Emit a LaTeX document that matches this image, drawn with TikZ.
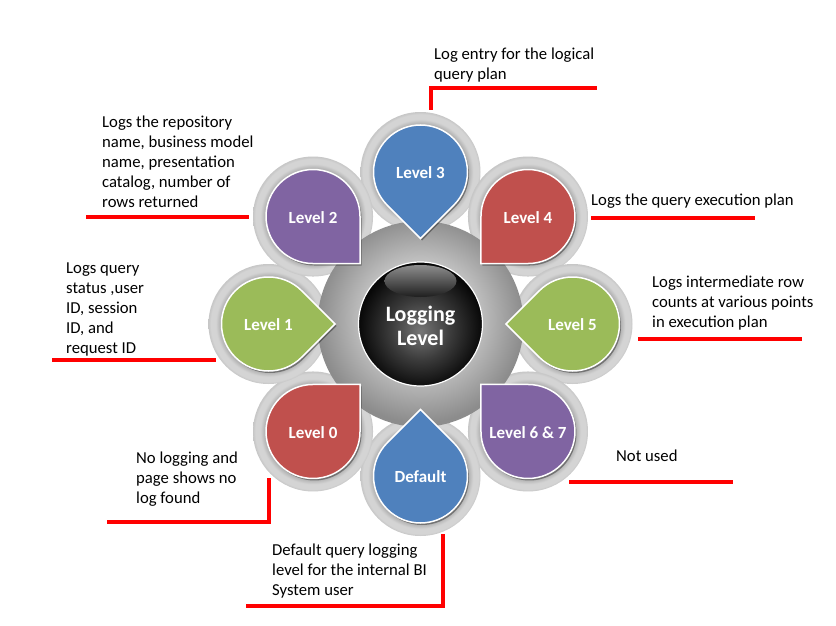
\documentclass[tikz,border=0pt]{standalone}
\usepackage{fontspec}
\setmainfont{Carlito}
\usetikzlibrary{shadows,calc}
\definecolor{cblue}{HTML}{4F81BD}
\definecolor{cpurple}{HTML}{8064A2}
\definecolor{cred}{HTML}{C0504D}
\definecolor{cgreen}{HTML}{9BBB59}
\definecolor{ringdark}{HTML}{A8A8A8}
\definecolor{ringlight}{HTML}{D4D4D4}
\definecolor{ringedge}{HTML}{C6C6C6}
\definecolor{gsin}{HTML}{C0C0C0}
\definecolor{gsout}{HTML}{8C8C8C}
\definecolor{bbin}{HTML}{767676}
\definecolor{bbmid}{HTML}{3C3C3C}
\definecolor{bbout}{HTML}{080808}
\pgfdeclareradialshading{ringshade}{\pgfpoint{0bp}{0bp}}{color(0bp)=(ringdark); color(19.5bp)=(ringdark); color(22bp)=(ringlight); color(24bp)=(ringlight); color(25bp)=(ringedge); color(50bp)=(ringedge)}
\pgfdeclareradialshading{graysphere}{\pgfpoint{0bp}{2bp}}{color(0bp)=(gsin); color(14bp)=(gsin); color(25bp)=(gsout); color(50bp)=(gsout)}
\pgfdeclareradialshading{blackball}{\pgfpoint{0bp}{-3bp}}{color(0bp)=(bbin); color(12bp)=(bbmid); color(25bp)=(bbout); color(50bp)=(bbout)}
\tikzset{
  petal/.style={draw=white, line width=1.5pt,
    drop shadow={shadow xshift=1.5pt, shadow yshift=-2pt, opacity=0.35, fill=black}},
  petallabel/.style={text=white, font=\fontsize{17}{20}\selectfont\bfseries, inner sep=0pt},
  note/.style={anchor=west, align=left, inner sep=0pt, text=black, font=\fontsize{16.7}{20}\selectfont},
  redline/.style={draw=red, line width=4.5pt},
}
\begin{document}
\begin{tikzpicture}[x=1pt,y=-1pt]
\fill[white] (0,0) rectangle (836,626);
\useasboundingbox (0,0) rectangle (836,626);
\coordinate (C) at (420.5,324);
\foreach \ang/\nm in {270/p3,315/p4,0/p5,45/p67,90/pd,135/p0,180/p1,225/p2}{
  \coordinate (\nm) at ($(C)+(\ang:152)$);
}
% rings
\foreach \nm in {p3,p4,p5,p67,pd,p0,p1,p2}{
  \shade[shading=ringshade] (\nm) circle[radius=60];
}
% grey sphere
\shade[shading=graysphere] (C) circle[radius=103];
% petals
\foreach \ang/\col/\nm/\txt in {270/cblue/p3/{Level 3},315/cred/p4/{Level 4},0/cgreen/p5/{Level 5},45/cpurple/p67/{Level 6 \& 7},90/cblue/pd/{Default},135/cred/p0/{Level 0},180/cgreen/p1/{Level 1},225/cpurple/p2/{Level 2}}{
  \path[petal, fill=\col] (\nm) ++(\ang+225:47) arc[start angle=\ang+225, delta angle=270, radius=47] -- ($(\nm)+(\ang+180:66.5)$) -- cycle;
  \node[petallabel] (t\nm) at ($(\nm)+(0,1)$) {\txt};
}
% black ball
\shade[shading=blackball] (C) circle[radius=62];
\shade[top color=black!45, bottom color=black!88] ($(C)+(0,-43)$) ellipse[x radius=36, y radius=16];
\draw[white, line width=1.2pt] (C) circle[radius=62];
\node[text=white, font=\fontsize{22}{24}\selectfont\bfseries, align=center, inner sep=0pt] (center) at ($(C)+(0,2)$) {Logging\\Level};
% notes
\node[note] (n3) at (434,65.5) {Log entry for the logical\\query plan};
\node[note] (n2) at (102,162) {Logs the repository\\name, business model\\name, presentation\\catalog, number of\\rows returned};
\node[note] (n4) at (591,201) {Logs the query execution plan};
\node[note] (n1) at (66,309) {Logs query\\status ,user\\ID, session\\ID, and\\request ID};
\node[note] (n5) at (652,303) {Logs intermediate row\\counts at various points\\in execution plan};
\node[note] (n67) at (616,456) {Not used};
\node[note] (n0) at (136,479.5) {No logging and\\page shows no\\log found};
\node[note] (nd) at (272,571) {Default query logging\\level for the internal BI\\System user};
% red lines
\coordinate (a3) at (431,110); \coordinate (b3) at (597,88);
\coordinate (a2) at (86,217); \coordinate (b2) at (249,217);
\coordinate (a4) at (591,218); \coordinate (b4) at (755,218);
\coordinate (a1) at (52,360); \coordinate (b1) at (216,360);
\coordinate (a5) at (638,339); \coordinate (b5) at (802,339);
\coordinate (a67) at (569,482); \coordinate (b67) at (733,482);
\coordinate (a0) at (107,522); \coordinate (b0) at (269,478);
\coordinate (ad) at (246,606); \coordinate (bd) at (443,534);
\draw[redline] (a3) |- (b3);
\draw[redline] (a2) -- (b2);
\draw[redline] (a4) -- (b4);
\draw[redline] (a1) -- (b1);
\draw[redline] (a5) -- (b5);
\draw[redline] (a67) -- (b67);
\draw[redline] (a0) -| (b0);
\draw[redline] (ad) -| (bd);
\end{tikzpicture}
\end{document}
